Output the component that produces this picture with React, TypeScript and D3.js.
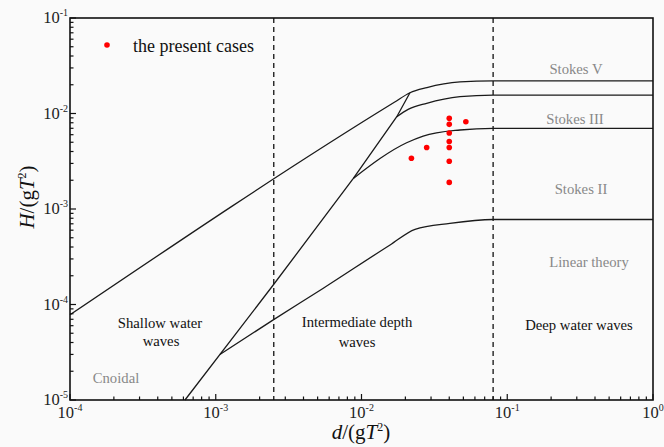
import React from "react";
import * as d3 from "d3";

// curve points [d/gT^2, H/gT^2]
const breakingLimit: [number, number][] = [
  [1e-4, 7.8e-5], [0.0168, 0.0131], [0.0215, 0.0165], [0.0281, 0.0187],
  [0.0474, 0.0214], [0.08, 0.022], [1, 0.022],
];
const ursellLine: [number, number][] = [
  [6.15e-4, 1e-5], [0.00248, 1.6e-4], [0.00879, 0.00209], [0.01746, 0.00925], [0.0215, 0.0165],
];
const stokesVBound: [number, number][] = [
  [0.01746, 0.00925], [0.0209, 0.01106], [0.028, 0.0128], [0.0474, 0.015], [0.08, 0.0156], [1, 0.0156],
];
const stokesIIIBound: [number, number][] = [
  [0.00879, 0.00209], [0.0204, 0.00494], [0.0265, 0.00581], [0.0474, 0.00672], [0.08, 0.007], [1, 0.007],
];
const linearBound: [number, number][] = [
  [0.00107, 3.0e-5], [0.00248, 6.9e-5], [0.00547, 1.48e-4], [0.0157, 4.2e-4],
  [0.0233, 6.13e-4], [0.0404, 7.08e-4], [0.08, 7.76e-4], [1, 7.76e-4],
];
const depthLimits = [0.0025, 0.08];

// the present cases
const casesD = [0.04, 0.04, 0.04, 0.04, 0.04, 0.04, 0.04, 0.052, 0.028, 0.022];
const casesH = [0.0089, 0.0077, 0.00625, 0.0051, 0.0044, 0.00316, 0.0019, 0.0082, 0.0044, 0.0034];

const xTickExps = [-4, -3, -2, -1, 0];
const yTickExps = [-5, -4, -3, -2, -1];

const W = 664, H = 447;
const left = 70, right = 653, top = 18, bottom = 400;
const font = '"Liberation Serif", "Times New Roman", serif';

export default function App() {
  const x = d3.scaleLog().domain([1e-4, 1]).range([left, right]);
  const y = d3.scaleLog().domain([1e-5, 1e-1]).range([bottom, top]);

  const smooth = d3.line<[number, number]>().x(d => x(d[0])).y(d => y(d[1])).curve(d3.curveMonotoneX);
  const straight = d3.line<[number, number]>().x(d => x(d[0])).y(d => y(d[1]));

  const xTicks = x.ticks();
  const yTicks = y.ticks();
  const isMajor = (v: number) => Math.abs(Math.log10(v) - Math.round(Math.log10(v))) < 1e-6;

  return (
    <svg width={W} height={H} style={{ position: "absolute", left: 0, top: 0, background: "#fafafa", fontFamily: font }}>
      <rect x={0} y={0} width={W} height={H} fill="#fafafa" />

      {/* depth limits */}
      {depthLimits.map(d => (
        <line key={d} x1={x(d)} x2={x(d)} y1={top} y2={bottom} stroke="#222" strokeWidth={1.4} strokeDasharray="5,4" />
      ))}

      {/* regime boundaries */}
      <g fill="none" stroke="#1a1a1a" strokeWidth={1.3}>
        <path d={smooth(breakingLimit) ?? ""} />
        <path d={straight(ursellLine) ?? ""} />
        <path d={smooth(stokesVBound) ?? ""} />
        <path d={smooth(stokesIIIBound) ?? ""} />
        <path d={smooth(linearBound) ?? ""} />
      </g>

      {/* cases */}
      {casesD.map((d, i) => (
        <circle key={i} cx={x(d)} cy={y(casesH[i])} r={2.8} fill="#ff0000" />
      ))}

      {/* legend */}
      <circle cx={107} cy={45} r={2.8} fill="#ff0000" />
      <text x={133} y={52} fontSize={18} fill="#111">the present cases</text>

      {/* region labels */}
      <g fontSize={14.7} textAnchor="middle">
        <text x={576} y={74} fill="#888">Stokes V</text>
        <text x={575} y={124} fill="#888">Stokes III</text>
        <text x={581} y={194} fill="#888">Stokes II</text>
        <text x={589} y={267} fill="#888">Linear theory</text>
        <text x={579} y={330} fill="#111">Deep water waves</text>
        <text x={357} y={327} fill="#111">Intermediate depth</text>
        <text x={357} y={347} fill="#111">waves</text>
        <text x={160} y={328} fill="#111">Shallow water</text>
        <text x={161} y={346} fill="#111">waves</text>
        <text x={116} y={383} fill="#888">Cnoidal</text>
      </g>

      {/* x ticks */}
      {xTicks.map((t, i) => (
        <line key={"xt" + i} x1={x(t)} x2={x(t)} y1={bottom} y2={bottom - (isMajor(t) ? 6 : 3.5)} stroke="#111" strokeWidth={1.2} />
      ))}
      {/* y ticks */}
      {yTicks.map((t, i) => (
        <line key={"yt" + i} x1={left} x2={left + (isMajor(t) ? 6 : 3.5)} y1={y(t)} y2={y(t)} stroke="#111" strokeWidth={1.2} />
      ))}

      {/* frame */}
      <rect x={left} y={top} width={right - left} height={bottom - top} fill="none" stroke="#111" strokeWidth={1.6} />

      {/* tick labels */}
      {xTickExps.map(e => (
        <text key={"xl" + e} x={x(Math.pow(10, e))} y={418} fontSize={16.5} textAnchor="middle" fill="#222">
          10<tspan dy={-7} fontSize={10}>{e}</tspan>
        </text>
      ))}
      {yTickExps.map(e => (
        <text key={"yl" + e} x={68} y={y(Math.pow(10, e)) + 5} fontSize={16.5} textAnchor="end" fill="#222">
          10<tspan dy={-7} fontSize={10}>{e}</tspan>
        </text>
      ))}

      {/* axis titles */}
      <text x={361} y={439} fontSize={21} textAnchor="middle" fill="#111">
        <tspan fontStyle="italic">d</tspan>/(<tspan>g</tspan><tspan fontStyle="italic">T</tspan>
        <tspan dy={-8} fontSize={12}>2</tspan><tspan dy={8}>)</tspan>
      </text>
      <text transform="translate(34,197) rotate(-90)" fontSize={21} textAnchor="middle" fill="#111">
        <tspan fontStyle="italic">H</tspan>/(<tspan>g</tspan><tspan fontStyle="italic">T</tspan>
        <tspan dy={-8} fontSize={12}>2</tspan><tspan dy={8}>)</tspan>
      </text>
    </svg>
  );
}
